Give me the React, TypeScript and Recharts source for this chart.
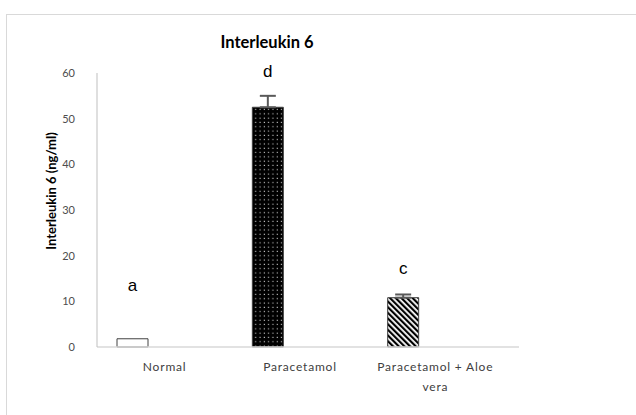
import { BarChart, Bar, XAxis, YAxis, Cell, ErrorBar, LabelList } from 'recharts';

// groups on the x axis
const groups = ['Normal', 'Paracetamol', 'Paracetamol + Aloe vera'];
// mean IL-6 (ng/ml) and the upper error (SD)
const means = [1.8, 52.5, 10.8];
const errors = [0, 2.5, 0.7];
// significance letters and the height (ng/ml) they sit at
const letters = ['a', 'd', 'c'];
const letterAt = [13.6, 60.4, 17.3];
const yTicks = [0, 10, 20, 30, 40, 50, 60];

const fills = ['#ffffff', 'url(#dots)', 'url(#stripes)'];

const data = groups.map((g, i) => ({
  name: g,
  mean: means[i],
  err: errors[i] > 0 ? [0, errors[i]] : null,
  letter: letters[i],
  blank: null,
}));

const FONT = 'Lato, "Open Sans", sans-serif';

function XTick(props: any) {
  const { x, y, payload } = props;
  const words = String(payload.value).split(' ');
  const lines: string[] = [];
  let cur = '';
  words.forEach((w) => {
    const next = cur ? cur + ' ' + w : w;
    if (next.length > 18 && cur) {
      lines.push(cur);
      cur = w;
    } else cur = next;
  });
  if (cur) lines.push(cur);
  return (
    <text x={x} y={y} textAnchor="middle" fontSize={12} letterSpacing={0.8} fill="#404040" fontFamily={FONT}>
      {lines.map((l, i) => (
        <tspan key={i} x={x} dy={i === 0 ? 24 : 20}>
          {l}
        </tspan>
      ))}
    </text>
  );
}

// letter placed at its own value height, measured with the bar's own pixel scale
function Letter(props: any) {
  const { x, y, width, height, index } = props;
  const ppu = height / means[index];
  const ly = y + height - letterAt[index] * ppu;
  return (
    <text
      x={x + width / 2}
      y={ly}
      dy={6}
      textAnchor="middle"
      fontSize={17}
      fill="#000"
      fontFamily='"Liberation Sans", Arial, sans-serif'
    >
      {letters[index]}
    </text>
  );
}

export default function App() {
  return (
    <div style={{ position: 'absolute', left: 0, top: 0, width: 636, height: 415, background: '#fff' }}>
      <div
        style={{
          position: 'absolute',
          left: 6,
          top: 14,
          right: 0,
          bottom: 0,
          borderTop: '1.5px solid #d9d9d9',
          borderLeft: '1.5px solid #d9d9d9',
        }}
      />
      <BarChart
        width={636}
        height={415}
        data={data}
        margin={{ top: 73, right: 117, bottom: 28, left: 0 }}
        barSize={31}
        barGap={33}
        barCategoryGap={20}
        style={{ position: 'absolute', left: 0, top: 0 }}
      >
        <defs>
          <pattern id="dots" patternUnits="userSpaceOnUse" width="4.3" height="4.3">
            <rect width="4.3" height="4.3" fill="#000" />
            <rect x="1.5" y="1.5" width="1.1" height="1.1" fill="#d0d0d0" />
          </pattern>
          <pattern
            id="stripes"
            patternUnits="userSpaceOnUse"
            width="4"
            height="4"
            patternTransform="rotate(-45)"
          >
            <rect width="4" height="4" fill="#fff" />
            <rect width="2.2" height="4" fill="#000" />
          </pattern>
        </defs>
        <text x={267} y={48} textAnchor="middle" fontSize={16.5} fontWeight="bold" fill="#000" fontFamily={FONT}>
          Interleukin 6
        </text>
        <text
          x={0}
          y={0}
          transform="translate(56 191) rotate(-90)"
          textAnchor="middle"
          fontSize={13}
          fontWeight="bold"
          fill="#000"
          fontFamily={FONT}
        >
          Interleukin 6 (ng/ml)
        </text>
        <XAxis
          dataKey="name"
          height={40}
          padding={{ left: 0, right: 16 }}
          axisLine={{ stroke: '#d9d9d9', strokeWidth: 1.5 }}
          tickLine={false}
          tickSize={0}
          tickMargin={0}
          interval={0}
          tick={<XTick />}
        />
        <YAxis
          width={97}
          domain={[0, 60]}
          ticks={yTicks}
          axisLine={{ stroke: '#bfbfbf' }}
          tickLine={false}
          tickSize={0}
          tickMargin={22}
          tick={{ fontSize: 11, fill: '#4d4d4d', fontFamily: FONT }}
        />
        <Bar dataKey="mean" stroke="#404040" strokeWidth={1} isAnimationActive={false}>
          {data.map((d, i) => (
            <Cell key={d.name} fill={fills[i]} />
          ))}
          <ErrorBar dataKey="err" width={8} stroke="#595959" strokeWidth={2} direction="y" />
          <LabelList dataKey="letter" content={<Letter />} />
        </Bar>
        <Bar dataKey="blank" fill="none" isAnimationActive={false} />
      </BarChart>
    </div>
  );
}
